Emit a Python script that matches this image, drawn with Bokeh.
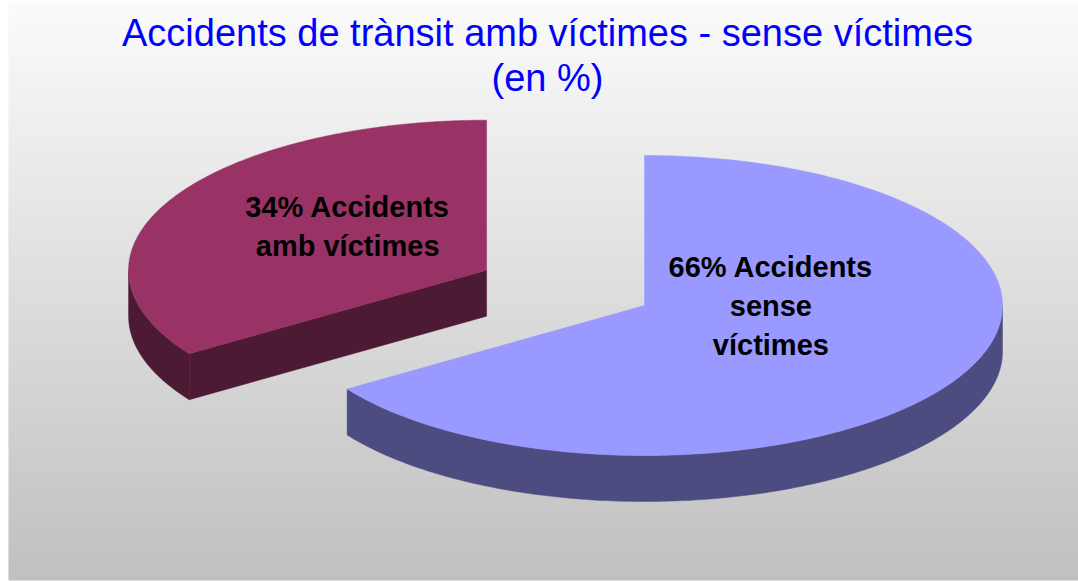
import numpy as np
from bokeh.plotting import figure
from bokeh.models import Range1d
from bokeh.core.properties import value
from bokeh.embed import file_html
from bokeh.resources import INLINE

# ---------------- data ----------------
title_lines = ["Accidents de trànsit amb víctimes - sense víctimes", "(en %)"]
categories = ["Accidents sense víctimes", "Accidents amb víctimes"]
values = [65.6, 34.4]
label_lines = [["66% Accidents", "sense", "víctimes"],
               ["34% Accidents", "amb víctimes"]]

# ---------------- style / layout ----------------
top_colors = ["#9999ff", "#993366"]
side_colors = ["#4c4c80", "#4d1a33"]
explode = [0.0, 0.5]
label_offset = [(0.353, 0.005), (-0.388, -0.29)]   # in units of (RX, RY)

W, H = 1078, 581
BG_LEFT, BG_BOTTOM = 8, 580
CX, CY = 644.0, 305.0
RX, RY = 358.0, 150.0
DEPTH = 46.0
FONT = "Liberation Sans"

p = figure(width=W, height=H, output_backend="svg", toolbar_location=None,
           x_range=Range1d(0, W), y_range=Range1d(H, 0),
           min_border=0)
p.axis.visible = False
p.grid.visible = False
p.outline_line_color = None
p.background_fill_color = "white"
p.border_fill_color = "white"

# ---------------- gradient background ----------------
step = 4
ys = np.arange(0, BG_BOTTOM, step)
def grey(y):
    v = int(round(251 - (251 - 192) * (y / 580.0)))
    v = max(0, min(255, v))
    return "#%02x%02x%02x" % (v, v, v)
p.quad(left=BG_LEFT, right=W, top=ys, bottom=np.minimum(ys + step + 1, BG_BOTTOM),
       fill_color=[grey(y + step / 2) for y in ys], line_color=None)

# ---------------- 3D pie ----------------
vals = np.array(values, dtype=float)
fr = vals / vals.sum()
ends = np.cumsum(fr) * 360.0
starts = ends - fr * 360.0

def pt(cx, cy, th):
    r = np.radians(th)
    return cx + RX * np.sin(r), cy - RY * np.cos(r)

slices = []
for i in range(len(vals)):
    th_s, th_e = starts[i], ends[i]
    th_m = (th_s + th_e) / 2
    ox, oy = pt(0, 0, th_m)
    cx, cy = CX + explode[i] * ox, CY + explode[i] * oy
    slices.append((cy, i, cx, th_s, th_e))

# draw back to front
slices.sort(key=lambda s: s[0])
for cy, i, cx, th_s, th_e in slices:
    side_xs, side_ys = [], []
    # curved front wall
    a0, a1 = max(th_s, 90.0), min(th_e, 270.0)
    if a1 > a0:
        th = np.linspace(a0, a1, 200)
        x, y = pt(cx, cy, th)
        side_xs.append(list(x) + list(x[::-1]))
        side_ys.append(list(y) + list((y + DEPTH)[::-1]))
    # radial faces
    for th, vis in ((th_s, np.sin(np.radians(th_s)) < -1e-9),
                    (th_e, np.sin(np.radians(th_e)) > 1e-9)):
        if vis:
            ex, ey = pt(cx, cy, th)
            side_xs.append([cx, ex, ex, cx])
            side_ys.append([cy, ey, ey + DEPTH, cy + DEPTH])
    if side_xs:
        p.patches(side_xs, side_ys, fill_color=side_colors[i],
                  line_color=side_colors[i], line_width=0.5)
    th = np.linspace(th_s, th_e, 300)
    x, y = pt(cx, cy, th)
    p.patch([cx] + list(x), [cy] + list(y), fill_color=top_colors[i],
            line_color=top_colors[i], line_width=0.5)

    # labels
    fx, fy = label_offset[i]
    lx, ly = cx + fx * RX, cy + fy * RY
    lines = label_lines[i]
    n = len(lines)
    p.text(x=[lx] * n, y=[ly + (k - (n - 1) / 2) * 39 for k in range(n)],
           text=lines, text_font=value(FONT), text_font_style="bold",
           text_font_size="29px", text_color="black",
           text_align="center", text_baseline="alphabetic")

# ---------------- title ----------------
p.text(x=[547, 547], y=[32, 77], text=title_lines, text_font=value(FONT),
       text_font_size="38px", text_color="#0000ff",
       text_align="center", text_baseline="alphabetic")

open("out.html", "w").write(file_html(p, INLINE))
